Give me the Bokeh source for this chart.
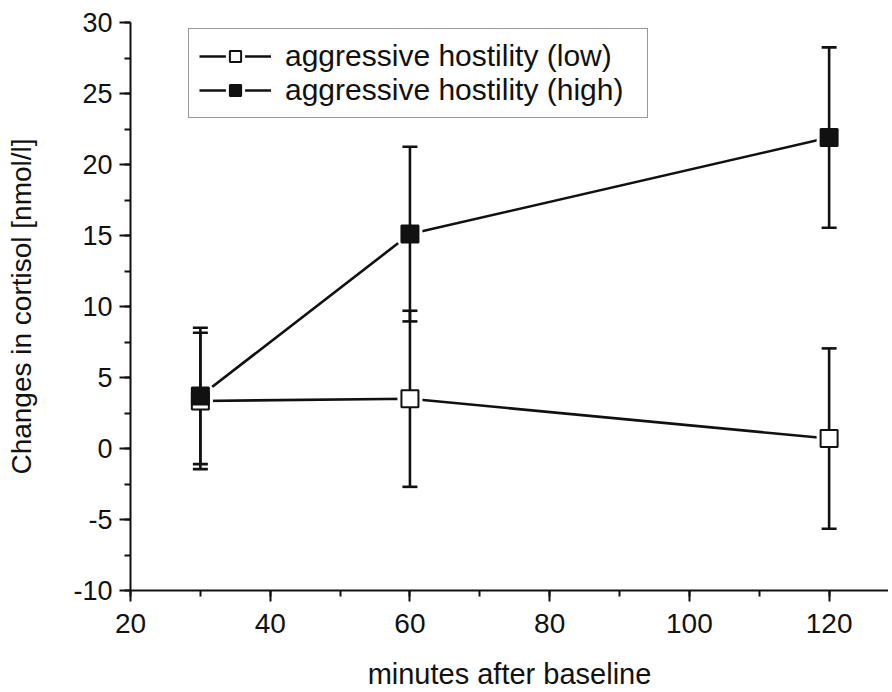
from bokeh.plotting import figure
from bokeh.models import (ColumnDataSource, SingleIntervalTicker, Legend, LegendItem,
                          Range1d, PrintfTickFormatter)
from bokeh.embed import file_html
from bokeh.resources import INLINE

# ---- data ----
minutes = [30, 60, 120]
low_mean = [3.35, 3.5, 0.7]
low_err = [4.8, 6.2, 6.35]
high_mean = [3.7, 15.1, 21.9]
high_err = [4.8, 6.15, 6.35]
series_labels = ["aggressive hostility (low)", "aggressive hostility (high)"]
x_label = "minutes after baseline"
y_label = "Changes in cortisol [nmol/l]"

FONT = "Liberation Sans"
INK = "#111111"


def src(mean, err):
    return ColumnDataSource(dict(
        x=minutes, y=mean,
        lo=[m - e for m, e in zip(mean, err)],
        hi=[m + e for m, e in zip(mean, err)],
    ))


low_src = src(low_mean, low_err)
high_src = src(high_mean, high_err)

p = figure(width=888, height=692, output_backend="svg", toolbar_location=None,
           x_range=Range1d(20, 128.5), y_range=Range1d(-10, 30),
           min_border_left=130, min_border_top=22, min_border_bottom=101,
           min_border_right=0)
p.outline_line_color = None
p.xgrid.grid_line_color = None
p.ygrid.grid_line_color = None
p.background_fill_color = "white"
p.border_fill_color = "white"

# connecting lines
low_line = p.line("x", "y", source=low_src, line_color=INK, line_width=2.6)
high_line = p.line("x", "y", source=high_src, line_color=INK, line_width=2.6)

# white halos to leave a gap between line and marker
low_halo = p.scatter("x", "y", source=low_src, marker="square", size=17,
                     fill_color="white", line_color="white", line_width=8)
high_halo = p.scatter("x", "y", source=high_src, marker="square", size=17,
                      fill_color="white", line_color="white", line_width=8)

# error bars
for s in (low_src, high_src):
    p.segment("x", "lo", "x", "hi", source=s, line_color=INK, line_width=2.6)
    p.scatter("x", "lo", source=s, marker="dash", size=15, line_color=INK, line_width=2.6)
    p.scatter("x", "hi", source=s, marker="dash", size=15, line_color=INK, line_width=2.6)

# markers
low_mk = p.scatter("x", "y", source=low_src, marker="square", size=17,
                   fill_color="white", line_color=INK, line_width=2)
high_mk = p.scatter("x", "y", source=high_src, marker="square", size=17,
                    fill_color=INK, line_color=INK, line_width=2)

# axes
p.xaxis.ticker = SingleIntervalTicker(interval=20, num_minor_ticks=2)
p.yaxis.ticker = SingleIntervalTicker(interval=5, num_minor_ticks=2)
p.xaxis.formatter = PrintfTickFormatter(format="%d")
p.yaxis.formatter = PrintfTickFormatter(format="%d")
for ax in (p.xaxis[0], p.yaxis[0]):
    ax.axis_line_width = 2
    ax.axis_line_color = INK
    ax.major_tick_line_width = 2
    ax.minor_tick_line_width = 2
    ax.major_tick_line_color = INK
    ax.minor_tick_line_color = INK
    ax.major_tick_out = 11
    ax.major_tick_in = 0
    ax.minor_tick_out = 6
    ax.minor_tick_in = 0
    ax.major_label_text_font = FONT
    ax.major_label_text_color = INK
    ax.axis_label_text_font = FONT
    ax.axis_label_text_color = INK
    ax.axis_label_text_font_style = "normal"

p.xaxis.axis_label = x_label
p.yaxis.axis_label = y_label
p.xaxis.major_label_text_font_size = "28px"
p.yaxis.major_label_text_font_size = "27px"
p.xaxis.axis_label_text_font_size = "29px"
p.yaxis.axis_label_text_font_size = "28px"
p.xaxis.major_label_standoff = 12
p.yaxis.major_label_standoff = 7
p.xaxis.axis_label_standoff = 22
p.yaxis.axis_label_standoff = 33

legend = Legend(items=[
    LegendItem(label=series_labels[0], renderers=[low_line, low_halo, low_mk]),
    LegendItem(label=series_labels[1], renderers=[high_line, high_halo, high_mk]),
], location=(58, 472))
legend.label_text_font = FONT
legend.label_text_font_size = "30px"
legend.label_text_color = INK
legend.glyph_width = 72
legend.glyph_height = 28
legend.label_height = 28
legend.label_width = 352
legend.label_standoff = 14
legend.spacing = 0
legend.padding = 10
legend.margin = 0
legend.border_line_color = "#333333"
legend.border_line_width = 1.5
legend.background_fill_alpha = 1
p.add_layout(legend)

open("out.html", "w").write(file_html(p, INLINE))
